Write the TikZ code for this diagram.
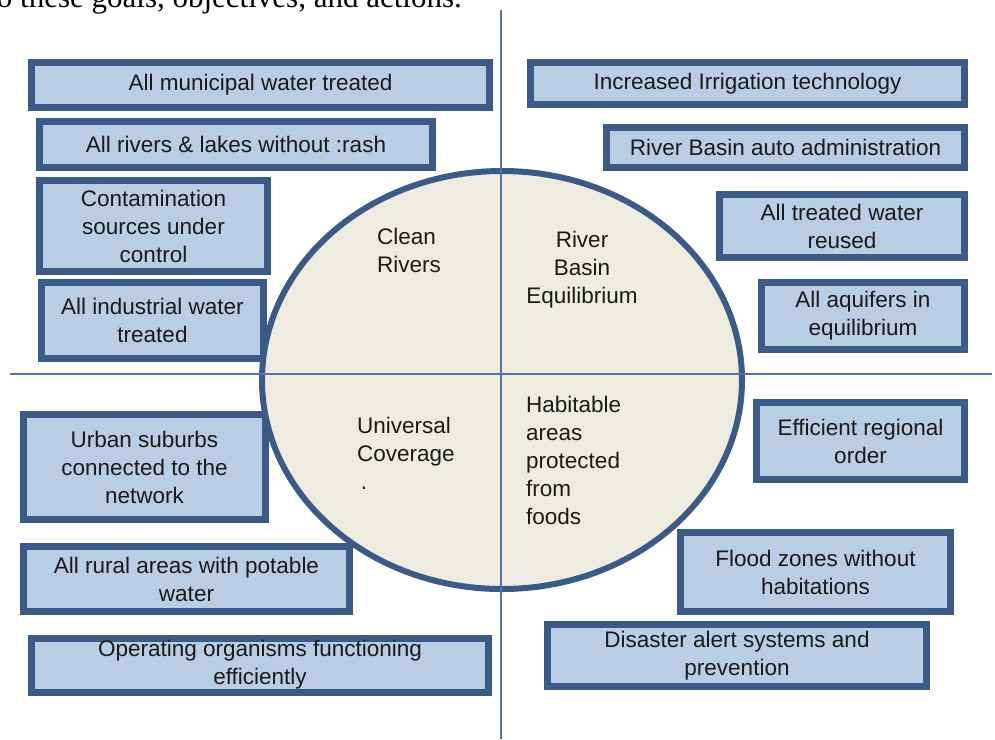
\documentclass[tikz,border=0pt]{standalone}
\usepackage{fontspec}
\setmainfont{Liberation Sans}
\newfontfamily\docserif{Liberation Serif}
\definecolor{boxblue}{HTML}{B9CDE5}
\definecolor{rimblue}{HTML}{3B5A86}
\definecolor{axisblue}{HTML}{5375A6}
\definecolor{discbeige}{HTML}{EEECE1}
\definecolor{inktext}{HTML}{1A1A1A}

\begin{document}
\begin{tikzpicture}[x=1pt, y=-1pt,
    every node/.style={font=\fontsize{22.5}{28}\selectfont, text=inktext},
    goalbox/.style={draw=rimblue, fill=boxblue, line width=7pt, inner sep=0pt, align=center},
    quadlabel/.style={inner sep=0pt}]
    \useasboundingbox (0,0) rectangle (995,739);
    \clip (0,0) rectangle (995,739);

    % Cut-off line of the page text
    \node[anchor=base east, inner sep=0pt, font=\docserif\fontsize{31}{36}\selectfont, text=black] (pageline) at (462,7) {to these goals, objectives, and actions.};

    % Left boxes
    \node[goalbox, minimum width=458pt, minimum height=45pt] (municipal) at (260.5,85) {All municipal water treated};
    \node[goalbox, minimum width=393pt, minimum height=46pt] (rivers) at (236,144.5) {All rivers \& lakes without :rash};
    \node[goalbox, minimum width=228pt, minimum height=91pt] (contamination) at (153.5,226) {Contamination\\sources under\\control};
    \node[goalbox, minimum width=222pt, minimum height=76pt] (industrial) at (152.5,320.5) {All industrial water\\treated};
    \node[goalbox, minimum width=242pt, minimum height=105pt] (suburbs) at (144.5,467) {Urban suburbs\\connected to the\\network};
    \node[goalbox, minimum width=326pt, minimum height=65pt] (rural) at (186.5,579) {All rural areas with potable\\water};
    \node[goalbox, minimum width=457pt, minimum height=54pt] (operating) at (260,665) {Operating organisms functioning\\efficiently};

    % Right boxes
    \node[goalbox, minimum width=434pt, minimum height=42pt] (irrigation) at (747.5,83.5) {Increased Irrigation technology};
    \node[goalbox, minimum width=358pt, minimum height=40pt] (basinadmin) at (785.5,147.5) {River Basin auto administration};
    \node[goalbox, minimum width=245pt, minimum height=63pt] (reuse) at (842,226) {All treated water\\reused};
    \node[goalbox, minimum width=203pt, minimum height=67pt] (aquifers) at (863,316) {All aquifers in\\equilibrium};
    \node[goalbox, minimum width=208pt, minimum height=77pt] (regional) at (860.5,441) {Efficient regional\\order};
    \node[goalbox, minimum width=270pt, minimum height=79pt] (floodzones) at (815.5,572) {Flood zones without\\habitations};
    \node[goalbox, minimum width=379pt, minimum height=62pt] (disaster) at (737,655.5) {Disaster alert systems and\\prevention};

    % Central disc
    \draw[draw=rimblue, fill=discbeige, line width=6pt] (502,380) ellipse (240pt and 209pt);

    % Axes
    \coordinate (axtop) at (501,10);
    \coordinate (axbottom) at (501,739);
    \coordinate (axleft) at (10,374);
    \coordinate (axright) at (992,374);
    \draw[axisblue, line width=2.5pt] (axtop) -- (axbottom);
    \draw[axisblue, line width=2.5pt] (axleft) -- (axright);

    % Quadrant labels
    \node[quadlabel, anchor=west, align=left] (clean) at (377,250) {Clean\\Rivers};
    \node[quadlabel, align=center] (equilibrium) at (582,270) {River\\Basin\\Equilibrium};
    \node[quadlabel, anchor=west, align=left] (coverage) at (357,453) {Universal\\Coverage\\\,.};
    \node[quadlabel, anchor=west, align=left] (habitable) at (526,460) {Habitable\\areas\\protected\\from\\foods};
\end{tikzpicture}
\end{document}
